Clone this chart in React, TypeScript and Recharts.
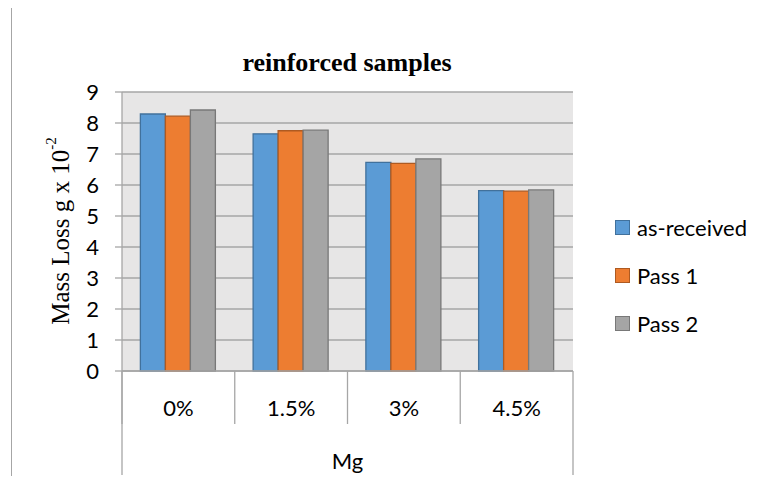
import { Bar, BarChart, CartesianGrid, Legend, XAxis, YAxis } from "recharts";

const categories = ["0%", "1.5%", "3%", "4.5%"];
const asReceived = [8.29, 7.65, 6.73, 5.82];
const pass1 = [8.22, 7.75, 6.7, 5.8];
const pass2 = [8.42, 7.77, 6.84, 5.84];
const yTicks = [0, 1, 2, 3, 4, 5, 6, 7, 8, 9];

const series = [
  { key: "asReceived", name: "as-received", fill: "#5B9BD5", stroke: "#41719C" },
  { key: "pass1", name: "Pass 1", fill: "#ED7D31", stroke: "#AE5A21" },
  { key: "pass2", name: "Pass 2", fill: "#A5A5A5", stroke: "#787878" },
];

const data = categories.map((c, i) => ({
  cat: c,
  asReceived: asReceived[i],
  pass1: pass1[i],
  pass2: pass2[i],
}));

const SANS = "Lato, 'Open Sans', sans-serif";
const SERIF = "'Liberation Serif', 'Times New Roman', serif";
const LINE = "#A6A6A6";

// category label plus the separator on its left edge
function CatTick(props: any) {
  const { x, y, payload } = props;
  const off = payload?.offset ?? 56;
  return (
    <g>
      <line x1={x - off} x2={x - off} y1={y} y2={y + 53} stroke={LINE} strokeWidth={1.3} />
      <text x={x} y={y + 36} textAnchor="middle" dominantBaseline="central" fontSize={22} fontFamily={SANS} fill="#000">
        {payload.value}
      </text>
    </g>
  );
}

function MgLabel(props: any) {
  const vb = props.viewBox || {};
  const x0 = vb.x ?? 114;
  const w = vb.width ?? 451;
  const y0 = vb.y ?? 363;
  return (
    <g>
      <line x1={x0} x2={x0} y1={y0} y2={y0 + 104} stroke={LINE} strokeWidth={1.3} />
      <line x1={x0 + w} x2={x0 + w} y1={y0} y2={y0 + 104} stroke={LINE} strokeWidth={1.3} />
      <text x={x0 + w / 2} y={y0 + 89} textAnchor="middle" dominantBaseline="central" fontSize={22} fontFamily={SANS} fill="#000">
        Mg
      </text>
    </g>
  );
}

function YLabel() {
  return (
    <text
      x={52}
      y={223}
      transform="rotate(-90 52 223)"
      textAnchor="middle"
      dominantBaseline="central"
      fontSize={25}
      fontFamily={SERIF}
      fill="#000"
    >
      Mass Loss g x 10
      <tspan fontSize={15} dy={-9}>
        -2
      </tspan>
    </text>
  );
}

function LegendBox() {
  return (
    <div style={{ fontFamily: SANS, fontSize: 22, color: "#000" }}>
      {series.map((s) => (
        <div key={s.key} style={{ height: 48, display: "flex", alignItems: "center" }}>
          <span
            style={{
              display: "inline-block",
              width: 13,
              height: 13,
              background: s.fill,
              border: `1px solid ${s.stroke}`,
              marginRight: 7,
            }}
          />
          {s.name}
        </div>
      ))}
    </div>
  );
}

export default function App() {
  return (
    <div style={{ position: "relative", width: 757, height: 468, overflow: "hidden", background: "#fff" }}>
      <div
        style={{
          position: "absolute",
          left: 3,
          top: -1,
          width: 900,
          height: 600,
          border: `1.5px solid ${LINE}`,
        }}
      />
      <div
        style={{
          position: "absolute",
          left: 139,
          top: 40,
          width: 400,
          textAlign: "center",
          fontFamily: SERIF,
          fontWeight: "bold",
          fontSize: 26,
          lineHeight: "30px",
        }}
      >
        reinforced samples
      </div>
      <BarChart
        width={757}
        height={468}
        data={data}
        margin={{ top: 84, right: 192, bottom: 0, left: 0 }}
        barCategoryGap="16.3%"
        barGap={0}
        style={{ position: "absolute", left: 0, top: 0 }}
      >
        <CartesianGrid vertical={false} stroke={LINE} strokeWidth={1.3} fill="#E7E6E6" fillOpacity={1} />
        <XAxis
          dataKey="cat"
          height={105}
          tickSize={0}
          tickMargin={0}
          tickLine={false}
          axisLine={{ stroke: LINE, strokeWidth: 1.3 }}
          tick={<CatTick />}
          interval={0}
          label={<MgLabel />}
        />
        <YAxis
          width={114}
          domain={[0, 9]}
          ticks={yTicks}
          interval={0}
          tickSize={7}
          tickMargin={16}
          tickLine={{ stroke: LINE, strokeWidth: 1.3 }}
          axisLine={{ stroke: LINE, strokeWidth: 1.3 }}
          tick={{ fill: "#000", fontSize: 22, fontFamily: SANS }}
          label={<YLabel />}
        />
        <Legend
          layout="vertical"
          align="center"
          verticalAlign="middle"
          content={<LegendBox />}
          wrapperStyle={{ left: 607, top: 195, width: 150 }}
        />
        {series.map((s) => (
          <Bar
            key={s.key}
            dataKey={s.key}
            name={s.name}
            fill={s.fill}
            stroke={s.stroke}
            strokeWidth={1.3}
            isAnimationActive={false}
          />
        ))}
      </BarChart>
    </div>
  );
}
